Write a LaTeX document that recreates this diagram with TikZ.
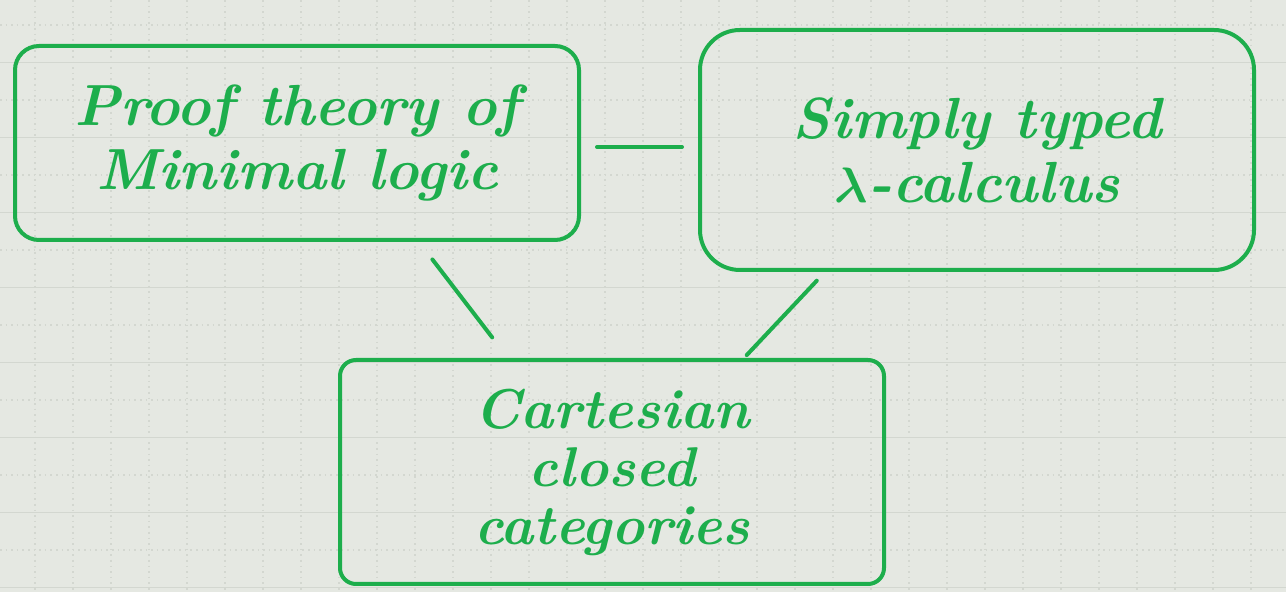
\documentclass[tikz,border=0pt]{standalone}
\usepackage{amsmath}
\usepackage{tikz}
\usetikzlibrary{positioning}
\definecolor{pen}{HTML}{1DAE4C}
\definecolor{paper}{HTML}{E5E8E2}
\definecolor{gridline}{HTML}{D3D7D0}

\begin{document}
\begin{tikzpicture}[x=0.5pt, y=-0.5pt, box/.style={draw=pen, line width=2pt, rounded corners=12pt, align=center, text=pen, font=\fontsize{29}{32}\selectfont\bfseries\itshape}, link/.style={draw=pen, line width=2pt, line cap=round}]
    
    %Paper
    \useasboundingbox[fill=paper] (0,0) rectangle (1286,592);
    \foreach \y in {25,100,...,592}
        \draw[gridline, dotted, line width=0.8pt] (0,\y) -- (1286,\y);
    \foreach \y in {62.5,137.5,...,592}
        \draw[gridline, line width=0.6pt] (0,\y) -- (1286,\y);
    \foreach \x in {35,73,...,1286}
        \draw[gridline, dotted, line width=0.8pt] (\x,0) -- (\x,592);
    
    %Nodes
    \node[box, minimum width=282pt, minimum height=97pt](proof) at (297,143){Proof theory of\\ Minimal logic};
    \node[box, rounded corners=20pt, minimum width=277pt, minimum height=120pt](lambda) at (977,150){Simply typed\\ $\boldsymbol{\lambda}$-calculus};
    \node[box, rounded corners=8pt, minimum width=272pt, minimum height=112pt, font=\fontsize{28}{29}\selectfont\bfseries\itshape](ccc) at (612,472){Cartesian\\ closed\\ categories};
    
    %Lines
    \draw[link, shorten <=8pt, shorten >=8pt] ([yshift=-2pt]proof.east) -- ([yshift=-2pt]proof.east -| lambda.west);
    \draw[link, shorten <=11pt, shorten >=13pt] ([xshift=61pt]proof.south) -- ([xshift=-52pt]ccc.north);
    \draw[link, shorten <=6pt, shorten >=2pt] ([xshift=-76pt]lambda.south) -- ([xshift=66pt]ccc.north);
    
\end{tikzpicture}
\end{document}
